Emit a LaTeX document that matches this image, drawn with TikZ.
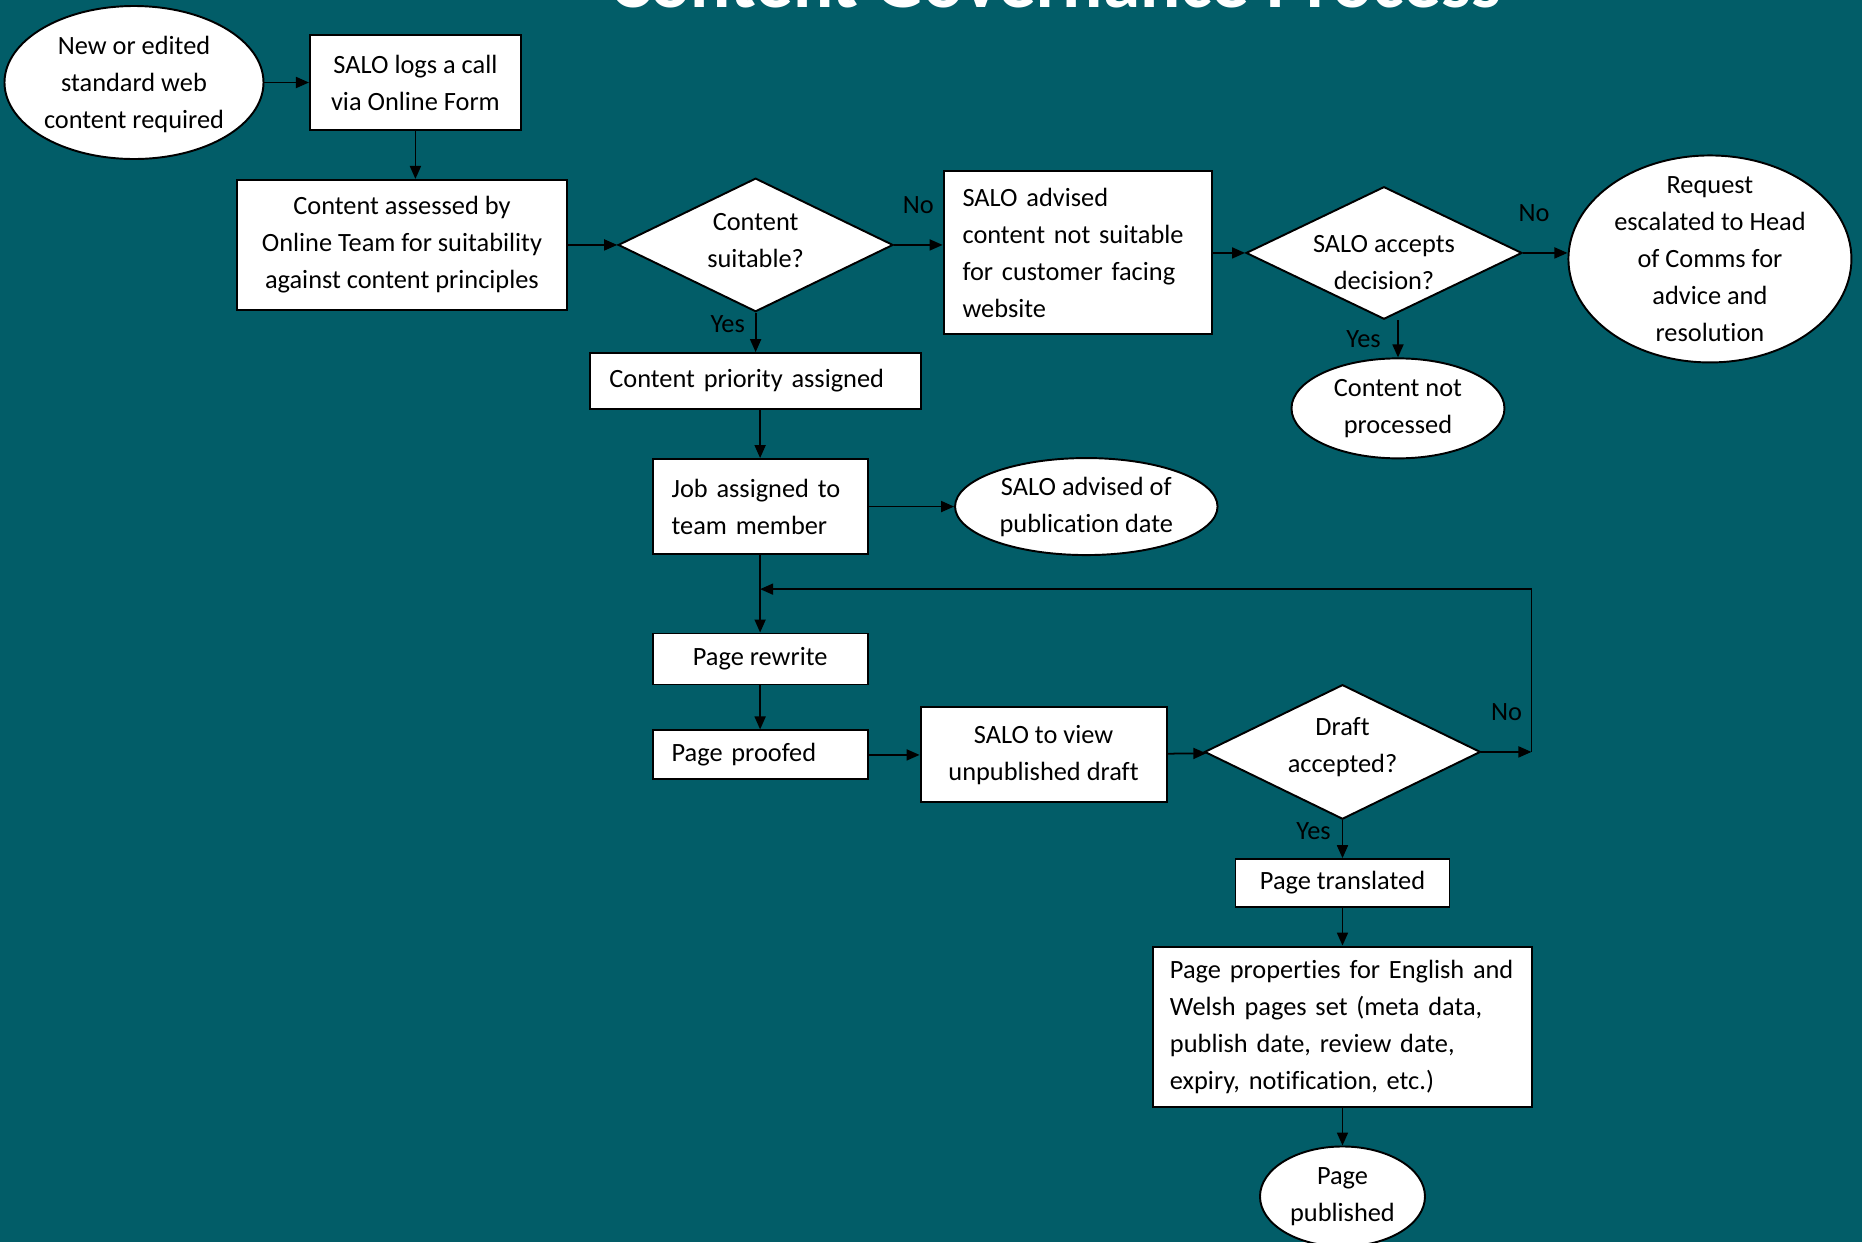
\documentclass[tikz,border=0pt]{standalone}
\usepackage{fontspec}
\setmainfont{Carlito}[Ligatures=NoCommon]
\usepackage{tikz}
\usetikzlibrary{arrows.meta,positioning,shapes.geometric,calc}
\definecolor{govteal}{RGB}{2,93,104}

\begin{document}
\begin{tikzpicture}[
    font=\fontsize{15pt}{21pt}\selectfont,
    box/.style={rectangle,draw,fill=white,line width=1.1pt,align=center,inner sep=0pt},
    lbox/.style={box,align=left,inner xsep=0.38cm},
    term/.style={ellipse,draw,fill=white,line width=1.1pt,align=center,inner sep=0pt},
    decision/.style={diamond,draw,fill=white,line width=1.1pt,align=center,inner ysep=0pt,inner xsep=-0.4cm,aspect=2.2,text depth=0cm},
    lbl/.style={text=black},
    flow/.style={->,line width=1pt},
    >={Triangle[length=0.26cm,width=0.22cm]}
  ]
  \path[use as bounding box] (0,0) rectangle (37.24,-24.84);
  \clip (0,0) rectangle (37.24,-24.84);
  \fill[govteal] (0,0) rectangle (37.24,-24.84);

  %% Title (runs off the top edge)
  \node[font=\fontsize{42.7pt}{50pt}\selectfont\bfseries,text=white,anchor=base] (title) at (21.12,-0.14) {Content Governance Process};

  %% Request and assessment
  \node[term,minimum width=5.18cm,minimum height=3.06cm,text depth=0cm] (start) at (2.68,-1.65) {New or edited\\standard web\\content required};
  \node[box,minimum width=4.22cm,minimum height=1.90cm,right=0.89cm of start] (call) {SALO logs a call\\via Online Form};
  \node[box,minimum width=6.60cm,minimum height=2.60cm,below=0.96cm of call,xshift=-0.27cm] (assess) {Content assessed by\\Online Team for suitability\\against content principles};
  \node[decision,minimum width=5.50cm,minimum height=2.67cm,text height=0.89cm,right=0.985cm of assess] (suitable) {Content\\suitable?};

  %% Not suitable branch
  \node[lbox,text width=4.60cm,minimum height=3.26cm,right=0.97cm of suitable,yshift=-0.16cm] (advised) {SALO advised\\content not suitable\\for customer facing\\website};
  \node[decision,minimum width=5.52cm,minimum height=2.65cm,text height=1.45cm,right=0.65cm of advised] (accepts) {SALO accepts\\decision?};
  \node[term,minimum width=5.66cm,minimum height=4.14cm,inner ysep=-0.25cm,right=0.89cm of accepts,yshift=-0.12cm] (escalate) {Request\\escalated to Head\\of Comms for\\advice and\\resolution};
  \node[term,minimum width=4.26cm,minimum height=2.0cm,below=0.745cm of accepts,xshift=0.28cm] (notproc) {Content not\\processed};

  %% Suitable branch
  \node[lbox,text width=5.85cm,minimum height=1.11cm,below=0.79cm of suitable] (priority) {Content priority assigned};
  \node[lbox,text width=3.54cm,minimum height=1.90cm,below=0.97cm of priority,xshift=0.09cm] (job) {Job assigned to\\team member};
  \node[term,minimum width=5.25cm,minimum height=1.94cm,right=1.71cm of job] (pubdate) {SALO advised of\\publication date};
  \node[box,minimum width=4.30cm,minimum height=1.02cm,below=1.55cm of job] (rewrite) {Page rewrite};
  \node[lbox,text width=3.54cm,minimum height=0.98cm,below=0.88cm of rewrite] (proofed) {Page proofed};
  \node[box,minimum width=4.92cm,minimum height=1.90cm,right=1.02cm of proofed] (view) {SALO to view\\unpublished draft};
  \node[decision,minimum width=5.52cm,minimum height=2.69cm,text height=0.81cm,right=0.72cm of view,yshift=0.06cm] (draft) {Draft\\accepted?};

  %% Publishing
  \node[box,minimum width=4.28cm,minimum height=0.95cm,below=0.76cm of draft] (translated) {Page translated};
  \node[lbox,text width=6.9cm,inner xsep=0.34cm,minimum height=3.21cm,below=0.76cm of translated] (props) {Page properties for English and\\Welsh pages set (meta data,\\publish date, review date,\\expiry, notification, etc.)};
  \node[term,minimum width=3.30cm,minimum height=2.0cm,below=0.75cm of props] (published) {Page\\published};

  %% Loop back points
  \coordinate[right=1.0cm of draft] (noturn);
  \coordinate (rejoin) at ($(job.south)!0.44!(rewrite.north)$);

  %% Connectors
  \draw[flow] (start.east) -- (call.west);
  \draw[flow] (call.south) -- (call.south |- assess.north);
  \draw[flow] (assess) -- (suitable);
  \draw[flow] (suitable.east) -- node[lbl,above=0.49cm] {No} (suitable.east -| advised.west);
  \draw[flow] (advised.east |- accepts.west) -- (accepts.west);
  \draw[flow] (accepts.east) -- node[lbl,above=0.49cm,pos=0.25] {No} (accepts.east -| escalate.west);
  \draw[flow] (accepts.south -| notproc.north) -- node[lbl,left=0.21cm] {Yes} (notproc.north);
  \draw[flow] (suitable) -- node[lbl,left=0.08cm,pos=0.3] {Yes} (priority);
  \draw[flow] (priority.south -| job.north) -- (job.north);
  \draw[flow] (job) -- (pubdate);
  \draw[flow] (job) -- (rewrite);
  \draw[flow] (rewrite) -- (proofed);
  \draw[flow] (proofed) -- (view);
  \draw[flow] (view) -- (draft);
  \draw[flow] (draft) -- node[lbl,above=0.49cm] {No} (noturn);
  \draw[flow] (noturn) |- (rejoin);
  \draw[flow] (draft) -- node[lbl,left=0.10cm,pos=0.29] {Yes} (translated);
  \draw[flow] (translated) -- (props);
  \draw[flow] (props) -- (published);
\end{tikzpicture}
\end{document}
